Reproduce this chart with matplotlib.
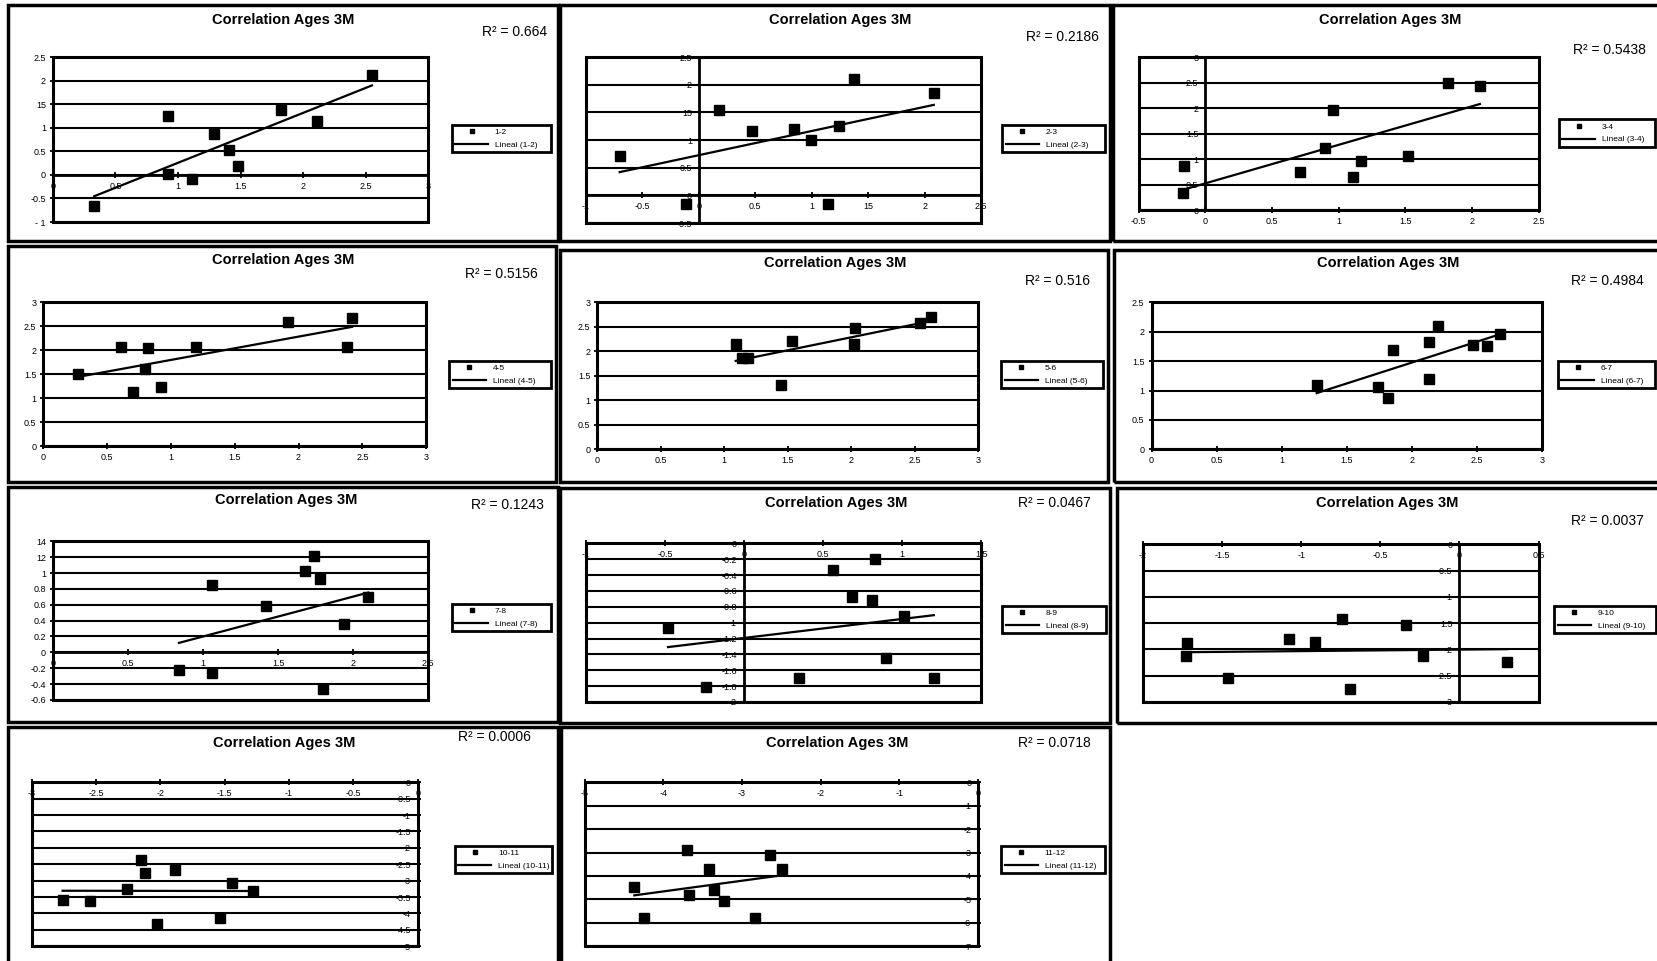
import numpy as np
import matplotlib.pyplot as plt
from matplotlib.lines import Line2D
from matplotlib.patches import Rectangle

plt.rcParams['font.family'] = ['Liberation Sans', 'DejaVu Sans']

# Data
x_12 = [0.33, 0.92, 0.92, 1.11, 1.29, 1.41, 1.48, 1.82, 2.11, 2.55]
y_12 = [-0.67, 1.26, 0.01, -0.09, 0.87, 0.53, 0.18, 1.38, 1.15, 2.12]

x_23 = [-0.70, -0.11, 0.18, 0.47, 0.84, 0.99, 1.14, 1.24, 1.37, 2.08]
y_23 = [0.72, -0.15, 1.54, 1.16, 1.20, 1.01, -0.15, 1.26, 2.11, 1.85]

x_34 = [-0.17, -0.16, 0.71, 0.90, 0.96, 1.11, 1.17, 1.52, 1.82, 2.06]
y_34 = [0.34, 0.86, 0.76, 1.23, 1.96, 0.65, 0.97, 1.07, 2.49, 2.44]

x_45 = [0.27, 0.61, 0.70, 0.80, 0.82, 0.92, 1.20, 1.92, 2.38, 2.42]
y_45 = [1.51, 2.06, 1.12, 1.60, 2.05, 1.24, 2.06, 2.60, 2.06, 2.68]

x_56 = [1.09, 1.14, 1.19, 1.45, 1.53, 2.02, 2.03, 2.54, 2.63]
y_56 = [2.14, 1.87, 1.87, 1.32, 2.22, 2.14, 2.47, 2.58, 2.71]

x_67 = [1.27, 1.74, 1.82, 1.86, 2.13, 2.13, 2.20, 2.47, 2.58, 2.68]
y_67 = [1.10, 1.06, 0.88, 1.69, 1.83, 1.20, 2.10, 1.78, 1.76, 1.97]

x_78 = [0.84, 1.06, 1.06, 1.42, 1.68, 1.74, 1.78, 1.80, 1.94, 2.10]
y_78 = [-0.22, 0.85, -0.26, 0.58, 1.03, 1.22, 0.92, -0.46, 0.36, 0.70]

x_89 = [-0.48, -0.24, 0.35, 0.56, 0.68, 0.81, 0.83, 0.90, 1.01, 1.20]
y_89 = [-1.07, -1.81, -1.70, -0.34, -0.68, -0.72, -0.20, -1.45, -0.91, -1.70]

x_910 = [-1.73, -1.72, -1.46, -1.08, -0.91, -0.74, -0.69, -0.34, -0.23, 0.30]
y_910 = [-2.13, -1.88, -2.54, -1.80, -1.85, -1.42, -2.76, -1.53, -2.12, -2.24]

x_1011 = [-2.76, -2.55, -2.26, -2.15, -2.12, -2.03, -1.89, -1.54, -1.44, -1.28]
y_1011 = [-3.58, -3.63, -3.24, -2.36, -2.76, -4.32, -2.68, -4.15, -3.08, -3.32]

x_1112 = [-4.37, -4.25, -3.70, -3.67, -3.42, -3.36, -3.23, -2.84, -2.64, -2.49]
y_1112 = [-4.48, -5.78, -2.87, -4.82, -3.69, -4.58, -5.05, -5.78, -3.10, -3.69]

series_names = ['1-2', '2-3', '3-4', '4-5', '5-6', '6-7', '7-8', '8-9', '9-10', '10-11', '11-12']
r2_labels = ['0.664', '0.2186', '0.5438', '0.5156', '0.516', '0.4984',
             '0.1243', '0.0467', '0.0037', '0.0006', '0.0718']
xs_all = [x_12, x_23, x_34, x_45, x_56, x_67, x_78, x_89, x_910, x_1011, x_1112]
ys_all = [y_12, y_23, y_34, y_45, y_56, y_67, y_78, y_89, y_910, y_1011, y_1112]

# axis ticks and their labels (as printed in the scan)
xticks_all = [
    ([0, 0.5, 1, 1.5, 2, 2.5, 3], ['0', '0.5', '1', '1.5', '2', '2.5', '3']),
    ([-1, -0.5, 0, 0.5, 1, 1.5, 2, 2.5], ['-1', '-0.5', '0', '0.5', '1', '15', '2', '2.5']),
    ([-0.5, 0, 0.5, 1, 1.5, 2, 2.5], ['-0.5', '0', '0.5', '1', '1.5', '2', '2.5']),
    ([0, 0.5, 1, 1.5, 2, 2.5, 3], ['0', '0.5', '1', '1.5', '2', '2.5', '3']),
    ([0, 0.5, 1, 1.5, 2, 2.5, 3], ['0', '0.5', '1', '1.5', '2', '2.5', '3']),
    ([0, 0.5, 1, 1.5, 2, 2.5, 3], ['0', '0.5', '1', '1.5', '2', '2.5', '3']),
    ([0, 0.5, 1, 1.5, 2, 2.5], ['0', '0.5', '1', '1.5', '2', '2.5']),
    ([-1, -0.5, 0, 0.5, 1, 1.5], ['-1', '-0.5', '0', '0.5', '1', '1.5']),
    ([-2, -1.5, -1, -0.5, 0, 0.5], ['-2', '-1.5', '-1', '-0.5', '0', '0.5']),
    ([-3, -2.5, -2, -1.5, -1, -0.5, 0], ['-3', '-2.5', '-2', '-1.5', '-1', '-0.5', '0']),
    ([-5, -4, -3, -2, -1, 0], ['-5', '-4', '-3', '-2', '-1', '0']),
]
yticks_all = [
    ([-1, -0.5, 0, 0.5, 1, 1.5, 2, 2.5], ['- 1', '-0.5', '0', '0.5', '1', '15', '2', '2.5']),
    ([-0.5, 0, 0.5, 1, 1.5, 2, 2.5], ['-0.5', '0', '0.5', '1', '15', '2', '2.5']),
    ([0, 0.5, 1, 1.5, 2, 2.5, 3], ['0', '0.5', '1', '1.5', '2', '2.5', '3']),
    ([0, 0.5, 1, 1.5, 2, 2.5, 3], ['0', '0.5', '1', '1.5', '2', '2.5', '3']),
    ([0, 0.5, 1, 1.5, 2, 2.5, 3], ['0', '0.5', '1', '1.5', '2', '2.5', '3']),
    ([0, 0.5, 1, 1.5, 2, 2.5], ['0', '0.5', '1', '1.5', '2', '2.5']),
    ([-0.6, -0.4, -0.2, 0, 0.2, 0.4, 0.6, 0.8, 1.0, 1.2, 1.4],
     ['-0.6', '-0.4', '-0.2', '0', '0.2', '0.4', '0.6', '0.8', '1', '12', '14']),
    ([-2, -1.8, -1.6, -1.4, -1.2, -1, -0.8, -0.6, -0.4, -0.2, 0],
     ['-2', '-1.8', '-1.6', '-1.4', '-1.2', '-1', '-0.8', '-0.6', '-0.4', '-0.2', '0']),
    ([-3, -2.5, -2, -1.5, -1, -0.5, 0], ['-3', '-2.5', '-2', '1.5', '-1', '-0.5', '0']),
    ([-5, -4.5, -4, -3.5, -3, -2.5, -2, -1.5, -1, -0.5, 0],
     ['-5', '-4.5', '-4', '-3.5', '-3', '-2.5', '-2', '-1.5', '-1', '-0.5', '0']),
    ([-7, -6, -5, -4, -3, -2, -1, 0], ['-7', '-6', '-5', '-4', '-3', '-2', '-1', '0']),
]

# layout in reference pixels (1568 x 909 grid)
W, H = 1568, 909
panel_boxes = [(8, 5, 528, 228), (530, 5, 1050, 228), (1053, 5, 1575, 228),
               (8, 233, 526, 456), (530, 236, 1048, 456), (1054, 236, 1575, 456),
               (8, 461, 528, 683), (530, 462, 1050, 684), (1056, 462, 1575, 684),
               (8, 688, 528, 920), (531, 688, 1050, 920)]
plot_boxes = [(50, 54, 405, 210), (554, 54, 928, 211), (1077, 54, 1455, 199),
              (41, 286, 403, 422), (565, 286, 925, 425), (1089, 286, 1458, 425),
              (50, 512, 405, 662), (554, 514, 928, 664), (1081, 515, 1455, 664),
              (30, 740, 395, 895), (553, 740, 925, 895)]
legend_boxes = [(427, 118, 521), (948, 118, 1045), (1474, 113, 1565),
                (425, 341, 521), (947, 341, 1043), (1473, 341, 1565),
                (427, 571, 521), (948, 573, 1046), (1470, 573, 1566),
                (430, 800, 522), (947, 800, 1045)]
title_pos = [(268, 19), (795, 19), (1315, 19), (268, 246), (790, 249), (1313, 249),
             (271, 473), (791, 476), (1312, 476), (269, 703), (792, 703)]
r2_pos = [(487, 30), (1005, 35), (1522, 47), (474, 259), (1000, 266), (1520, 266),
          (480, 478), (997, 476), (1520, 493), (468, 697), (997, 703)]

fig = plt.figure(figsize=(16.58, 9.61), dpi=100)

for i in range(11):
    x = np.array(xs_all[i])
    y = np.array(ys_all[i])

    # outer chart frame
    bx0, by0, bx1, by1 = panel_boxes[i]
    fig.add_artist(Rectangle((bx0 / W, 1 - by1 / H), (bx1 - bx0) / W, (by1 - by0) / H,
                             transform=fig.transFigure, fill=False, lw=2.5, ec='black'))

    px0, py0, px1, py1 = plot_boxes[i]
    ax = fig.add_axes([px0 / W, 1 - py1 / H, (px1 - px0) / W, (py1 - py0) / H])
    xt, xl = xticks_all[i]
    yt, yl = yticks_all[i]
    ax.set_xlim(xt[0], xt[-1])
    ax.set_ylim(yt[0], yt[-1])
    ax.set_xticks(xt)
    ax.set_xticklabels(xl)
    ax.set_yticks(yt)
    ax.set_yticklabels(yl)

    for s in ['top', 'right']:
        ax.spines[s].set_visible(False)
    ax.spines['left'].set_position(('data', 0))
    ax.spines['bottom'].set_position(('data', 0))
    ax.spines['left'].set_linewidth(2)
    ax.spines['bottom'].set_linewidth(2)
    ax.add_patch(Rectangle((0, 0), 1, 1, transform=ax.transAxes, fill=False,
                           lw=2.2, ec='black', clip_on=False, zorder=3))
    ax.yaxis.grid(True, color='black', lw=1.5)
    ax.set_axisbelow(True)
    ax.tick_params(direction='inout', length=4, width=1.3, labelsize=6.5, pad=3)

    ax.plot(x, y, 's', color='black', ms=6.5, clip_on=False, zorder=4)
    coef = np.polyfit(x, y, 1)
    xf = np.array([x.min(), x.max()])
    ax.plot(xf, np.polyval(coef, xf), color='black', lw=1.6, zorder=4)

    handles = [Line2D([], [], marker='s', color='black', ls='none', ms=3.5),
               Line2D([], [], color='black', lw=1.6)]
    lx0, ly0, lx1 = legend_boxes[i]
    name = series_names[i]
    leg = ax.legend(handles, [name, 'Lineal (' + name + ')'], loc='upper left',
                    bbox_to_anchor=(lx0 / W, 1 - ly0 / H, (lx1 - lx0) / W, 0.0),
                    bbox_transform=fig.transFigure, mode='expand', borderaxespad=0,
                    fontsize=6, handlelength=4.0, labelspacing=0.6,
                    fancybox=False, framealpha=1, edgecolor='black')
    leg.get_frame().set_linewidth(2)

    tx, ty = title_pos[i]
    fig.text(tx / W, 1 - ty / H, 'Correlation Ages 3M', ha='center', va='center',
             fontsize=10.5, fontweight='bold')
    rx, ry = r2_pos[i]
    fig.text(rx / W, 1 - ry / H, 'R² = ' + r2_labels[i], ha='center', va='center',
             fontsize=10)

fig.savefig('out.png', dpi=100)
